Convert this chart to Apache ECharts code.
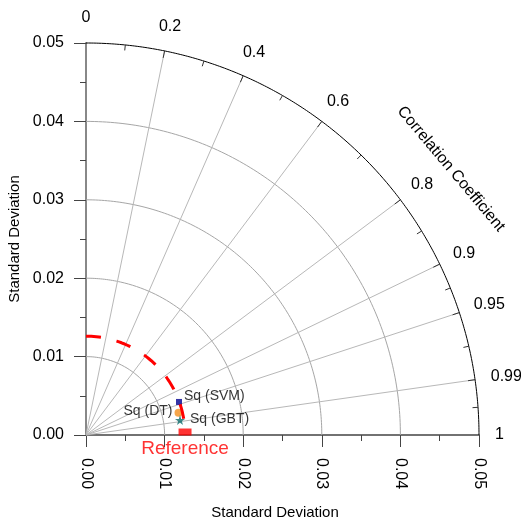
<!DOCTYPE html>
<html><head><meta charset="utf-8">
<script src="https://cdn.jsdelivr.net/npm/echarts@6/dist/echarts.min.js"></script>
<style>html,body{margin:0;padding:0;background:#fff}#c{width:521px;height:521px}</style>
</head><body><div id="c"></div>
<script>
// ---- data ----
const MAX_STD = 0.05;
const stdTicks = [0, 0.01, 0.02, 0.03, 0.04, 0.05];
const gridStd = [0.01, 0.02, 0.03, 0.04];
const corrLines = [0.2, 0.4, 0.6, 0.8, 0.9, 0.95, 0.99];
const corrLabelValues = [0, 0.2, 0.4, 0.6, 0.8, 0.9, 0.95, 0.99, 1];
const corrLabels = ['0', '0.2', '0.4', '0.6', '0.8', '0.9', '0.95', '0.99', '1'];
const corrMinor = [0.1, 0.3, 0.5, 0.7, 0.854, 0.927, 0.974, 0.9975];
const refStd = 0.0126;
const modelNames = ['Sq (SVM)', 'Sq (DT)', 'Sq (GBT)'];
const modelStd = [0.01256, 0.01211, 0.01211];
const modelCorr = [0.942, 0.972, 0.9875];

const FONT = "'Liberation Sans', Arial, Helvetica, sans-serif";

function polar(r, c) { const s = Math.sqrt(Math.max(0, 1 - c * c)); return [r * c, r * s]; }
function arcPts(r, a0, a1, n) {
  const p = [];
  for (let i = 0; i <= n; i++) {
    const a = (a0 + (a1 - a0) * i / n) * Math.PI / 180;
    p.push([r * Math.cos(a), r * Math.sin(a)]);
  }
  return p;
}
function lineSeries(data, style, z) {
  return { type: 'line', data: data, showSymbol: false, symbol: 'none', silent: true,
    animation: false, clip: false, lineStyle: style, z: z || 2 };
}

const chart = echarts.init(document.getElementById('c'), null, { renderer: 'canvas' });

const series = [];
gridStd.forEach(r => series.push(lineSeries(arcPts(r, 0, 90, 120), { color: '#a6a6a6', width: 1 }, 1)));
corrLines.forEach(c => series.push(lineSeries([[0, 0], polar(MAX_STD, c)], { color: '#b8b8b8', width: 1 }, 1)));
series.push(lineSeries(arcPts(MAX_STD, 0, 90, 240), { color: '#000', width: 1 }, 3));
corrLines.forEach(c => series.push(lineSeries([polar(MAX_STD - 0.0009, c), polar(MAX_STD, c)], { color: '#333', width: 1 }, 3)));
corrMinor.forEach(c => series.push(lineSeries([polar(MAX_STD - 0.0007, c), polar(MAX_STD, c)], { color: '#333', width: 1 }, 3)));

const STAR = 'path://M50,0 L61,35 L98,35 L68,57 L79,91 L50,70 L21,91 L32,57 L2,35 L39,35 Z';
const modelStyle = [
  { symbol: 'rect', size: 6, color: '#000090', pos: 'right', dist: 2, off: [0, -6] },
  { symbol: 'circle', size: 8, color: '#f4901e', pos: 'left', dist: 2, off: [0, -2] },
  { symbol: STAR, size: 10, color: '#0d6b6b', pos: 'right', dist: 5, off: [0, -1] }
];
modelNames.forEach((name, i) => {
  const st = modelStyle[i];
  series.push({
    type: 'scatter', name: name, data: [polar(modelStd[i], modelCorr[i])],
    symbol: st.symbol, symbolSize: st.size, itemStyle: { color: st.color },
    animation: false, silent: true, z: 5,
    label: { show: true, formatter: name, position: st.pos, distance: st.dist, offset: st.off,
      fontSize: 14, color: '#000', fontFamily: FONT }
  });
});

series.push(lineSeries(arcPts(refStd, 90, 0, 120),
  { color: '#ff0000', width: 3, type: [15, 16], cap: 'butt' }, 6));

series.push({
  type: 'scatter', name: 'Reference', data: [[refStd, 0]],
  symbol: 'rect', symbolSize: [13, 7], symbolOffset: [0, -3], itemStyle: { color: '#ff0000' },
  animation: false, silent: true, z: 7,
  label: { show: true, formatter: 'Reference', position: 'bottom', distance: 4,
    color: '#ff0000', fontSize: 19, fontFamily: FONT }
});

const axisCommon = {
  type: 'value', min: 0, max: MAX_STD, interval: 0.01,
  splitLine: { show: false },
  minorTick: { show: true, splitNumber: 2, length: 6, lineStyle: { color: '#444' } },
  axisTick: { show: true, length: 12, lineStyle: { color: '#444' } },
  axisLabel: { fontSize: 16, color: '#000', fontFamily: FONT, formatter: v => v.toFixed(2) },
  nameLocation: 'middle',
  nameTextStyle: { fontSize: 15, color: '#000', fontFamily: FONT }
};

chart.setOption({
  animation: false,
  backgroundColor: '#fff',
  grid: { left: 86, top: 43, width: 393, height: 392, containLabel: false, outerBoundsMode: 'none' },
  xAxis: Object.assign({}, axisCommon, {
    name: 'Standard Deviation', nameGap: 70,
    nameTextStyle: Object.assign({}, axisCommon.nameTextStyle, { padding: [0, 15, 0, 0] }),
    axisLine: { show: true, lineStyle: { color: '#444', width: 1.5 } },
    axisLabel: Object.assign({}, axisCommon.axisLabel, { rotate: -90, margin: 23 })
  }),
  yAxis: Object.assign({}, axisCommon, {
    name: 'Standard Deviation', nameGap: 60,
    axisLine: { show: true, lineStyle: { color: '#888', width: 2 } },
    axisLabel: Object.assign({}, axisCommon.axisLabel, { margin: 22 })
  }),
  series: series
});

// correlation labels around the outer arc
const cv = document.createElement('canvas').getContext('2d');
cv.font = '16px ' + FONT;
const o = chart.convertToPixel({ gridIndex: 0 }, [0, 0]);
const e = chart.convertToPixel({ gridIndex: 0 }, [MAX_STD, 0]);
const Rpx = (e[0] - o[0]) * 409 / 393;
const graphics = corrLabels.map((t, i) => {
  const th = Math.acos(corrLabelValues[i]);
  const w = cv.measureText(t).width;
  const ax = o[0] + Rpx * Math.cos(th), ay = o[1] - Rpx * Math.sin(th);
  return { type: 'text', x: ax + w / 2 * Math.cos(th), y: ay - 8 * Math.sin(th), silent: true,
    style: { text: t, fontSize: 16, fontFamily: FONT, fill: '#000', align: 'center', verticalAlign: 'middle' } };
});
graphics.push({ type: 'text', x: 451, y: 169, rotation: -50 * Math.PI / 180, silent: true,
  style: { text: 'Correlation Coefficient', fontSize: 16, fontFamily: FONT, fill: '#000', align: 'center', verticalAlign: 'middle' } });
chart.setOption({ graphic: graphics });
</script>
</body></html>
